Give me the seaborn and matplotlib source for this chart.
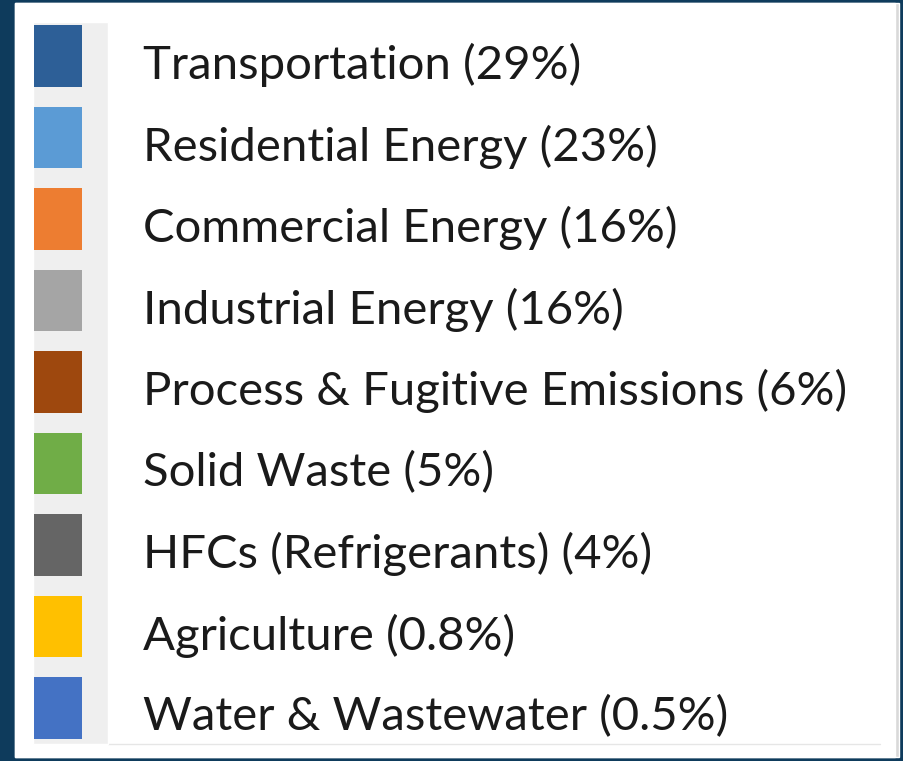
import seaborn as sns
from matplotlib import pyplot as plt
from matplotlib.patches import Rectangle
from matplotlib.transforms import ScaledTranslation
import pandas as pd

sectors = ['Transportation', 'Residential Energy', 'Commercial Energy', 'Industrial Energy',
           'Process & Fugitive Emissions', 'Solid Waste', 'HFCs (Refrigerants)',
           'Agriculture', 'Water & Wastewater']
shares = ['29', '23', '16', '16', '6', '5', '4', '0.8', '0.5']
colors = ['#2d5f97', '#5b9bd5', '#ed7d31', '#a5a5a5', '#9e480e',
          '#70ad47', '#656565', '#ffc000', '#4472c4']

labels = [f'{s} ({p}%)' for s, p in zip(sectors, shares)]
df = pd.DataFrame({'label': labels, 'swatch': [1] * len(labels)})

sns.set_style('white')
plt.rcParams['font.family'] = ['Lato', 'DejaVu Sans']

W, H = 904, 761
fig = plt.figure(figsize=(W / 100, H / 100), dpi=100, facecolor='#0e3b5c')

def fx(px):
    return px / W

def fy(px):
    return 1 - px / H

# white card with a faint shadow on the right
fig.patches.append(Rectangle((fx(15), fy(757)), fx(884), (757 - 3) / H,
                             transform=fig.transFigure, facecolor='#d9d9d9', zorder=-3))
fig.patches.append(Rectangle((fx(15), fy(757)), fx(880), (757 - 3) / H,
                             transform=fig.transFigure, facecolor='white', zorder=-2))
# grey strip behind the swatches
fig.patches.append(Rectangle((fx(33), fy(744)), fx(75), (744 - 22) / H,
                             transform=fig.transFigure, facecolor='#efefef', zorder=-1))
# faint rule under the list
fig.add_artist(plt.Line2D([fx(108), fx(880)], [fy(744), fy(744)],
                          transform=fig.transFigure, color='#e6e6e6', lw=1, zorder=-1))

top, bottom = 56 - 40.75, 708 + 40.75
ax = fig.add_axes([fx(34), fy(bottom), fx(48), (bottom - top) / H])
ax.set_facecolor('none')
sns.barplot(data=df, x='swatch', y='label', hue='label', palette=colors,
            width=0.76, saturation=1, linewidth=0, legend=False, ax=ax)
ax.set_xlim(0, 1)
ax.set_xticks([])
ax.set_xlabel('')
ax.set_ylabel('')
ax.yaxis.tick_right()
ax.tick_params(axis='y', length=0, pad=44, labelsize=34, labelcolor='#1a1a1a')
shift = ScaledTranslation(0, -5 / 100, fig.dpi_scale_trans)
for lab in ax.get_yticklabels():
    lab.set_transform(lab.get_transform() + shift)
sns.despine(ax=ax, left=True, bottom=True, right=True, top=True)

plt.savefig('out.png', dpi=100, facecolor=fig.get_facecolor())
